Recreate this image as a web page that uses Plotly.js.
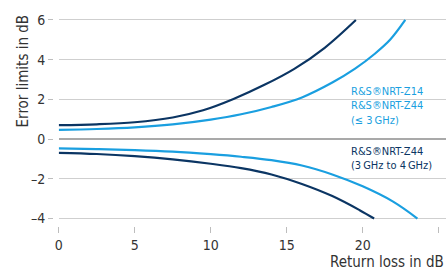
<!DOCTYPE html>
<html>
<head>
<meta charset="utf-8">
<script src="https://cdn.plot.ly/plotly-3.0.1.min.js"></script>
<style>html,body{margin:0;padding:0;background:#fff;}#chart{width:446px;height:271px;}</style>
</head>
<body>
<div id="chart"></div>
<script>
// Return loss in dB (x) vs error limits in dB (y)
const darkUpperX = [0, 2.5, 5, 7.5, 9.5, 11.5, 13.5, 15.5, 17.5, 19.55];
const darkUpperY = [0.70, 0.745, 0.85, 1.09, 1.45, 2.02, 2.72, 3.54, 4.6, 6.0];
const lightUpperX = [0, 2.5, 5, 7.5, 10, 12, 14, 16, 18, 19.5, 20.8, 21.8, 22.8];
const lightUpperY = [0.47, 0.51, 0.59, 0.74, 0.98, 1.25, 1.62, 2.1, 2.85, 3.55, 4.3, 5.0, 6.0];
const lightLowerX = [0, 2.5, 5, 7.5, 10, 12, 14, 16, 18, 20, 22, 23.6];
const lightLowerY = [-0.47, -0.50, -0.55, -0.63, -0.76, -0.89, -1.06, -1.33, -1.78, -2.38, -3.15, -4.0];
const darkLowerX = [0, 2.5, 5, 7.5, 10, 12, 14, 16, 18, 19.8, 20.75];
const darkLowerY = [-0.69, -0.75, -0.86, -1.02, -1.24, -1.46, -1.78, -2.26, -2.87, -3.58, -4.0];
const xTicks = [0, 5, 10, 15, 20, 25];
const yTicks = [-4, -2, 0, 2, 4, 6];
const labelLight = ["R&S®NRT-Z14", "R&S®NRT-Z44", "(≤ 3\u2009GHz)"];
const labelDark = ["R&S®NRT-Z44", "(3\u2009GHz to 4\u2009GHz)"];

const DARK = "#0b3563";
const LIGHT = "#1a9fe0";
const FONT = "'Liberation Sans Narrow', 'DejaVu Sans Condensed', sans-serif";

function tr(x, y, c) {
  return {x: x, y: y, type: "scatter", mode: "lines",
    line: {color: c, width: 2.2, shape: "spline", smoothing: 1},
    hoverinfo: "skip", showlegend: false};
}

const data = [
  tr(lightUpperX, lightUpperY, LIGHT),
  tr(darkUpperX, darkUpperY, DARK),
  tr(lightLowerX, lightLowerY, LIGHT),
  tr(darkLowerX, darkLowerY, DARK)
];

const layout = {
  width: 446, height: 271,
  margin: {l: 45, r: 0, t: 17.5, b: 45, pad: 0},
  paper_bgcolor: "#fff", plot_bgcolor: "#fff",
  font: {family: FONT, color: "#333", size: 14},
  showlegend: false,
  xaxis: {
    domain: [0.0342, 1], range: [0, 25.48], anchor: "free", position: 0,
    tickvals: xTicks, ticks: "outside", ticklen: 6, tickwidth: 1, tickcolor: "#bdbdbd",
    showgrid: false, zeroline: false, showline: false,
    tickfont: {family: FONT, size: 14, color: "#333"}
  },
  yaxis: {
    domain: [0.0264, 1], range: [-4.1, 6.1], anchor: "free", position: 0.02,
    tickvals: yTicks, ticktext: yTicks.map(v => v < 0 ? "\u2013" + Math.abs(v) : String(v)),
    ticks: "outside", ticklen: 5, tickwidth: 1, tickcolor: "#bdbdbd",
    showgrid: true, gridcolor: "#cfcfcf", gridwidth: 1,
    zeroline: true, zerolinecolor: "#a9a9a9", zerolinewidth: 2,
    showline: false,
    tickfont: {family: FONT, size: 14, color: "#333"}
  },
  annotations: [
    {text: "Error limits in dB", xref: "paper", yref: "paper", x: -0.0549, y: 0.748,
     xanchor: "center", yanchor: "middle", textangle: -90, showarrow: false,
     font: {family: FONT, size: 15, color: "#333"}},
    {text: "Return loss in dB", xref: "paper", yref: "paper", x: 1, y: -0.175,
     xanchor: "right", yanchor: "middle", showarrow: false,
     font: {family: FONT, size: 15, color: "#333"}},
    {text: labelLight.join("<br>"), xref: "x", yref: "y", x: 19.1, y: 1.66,
     xanchor: "left", yanchor: "middle", align: "left", showarrow: false,
     font: {family: FONT, size: 11, color: LIGHT}},
    {text: labelDark.join("<br>"), xref: "x", yref: "y", x: 19.1, y: -0.99,
     xanchor: "left", yanchor: "middle", align: "left", showarrow: false,
     font: {family: FONT, size: 11, color: DARK}}
  ]
};

Plotly.newPlot("chart", data, layout, {displayModeBar: false, staticPlot: true});
</script>
</body>
</html>
